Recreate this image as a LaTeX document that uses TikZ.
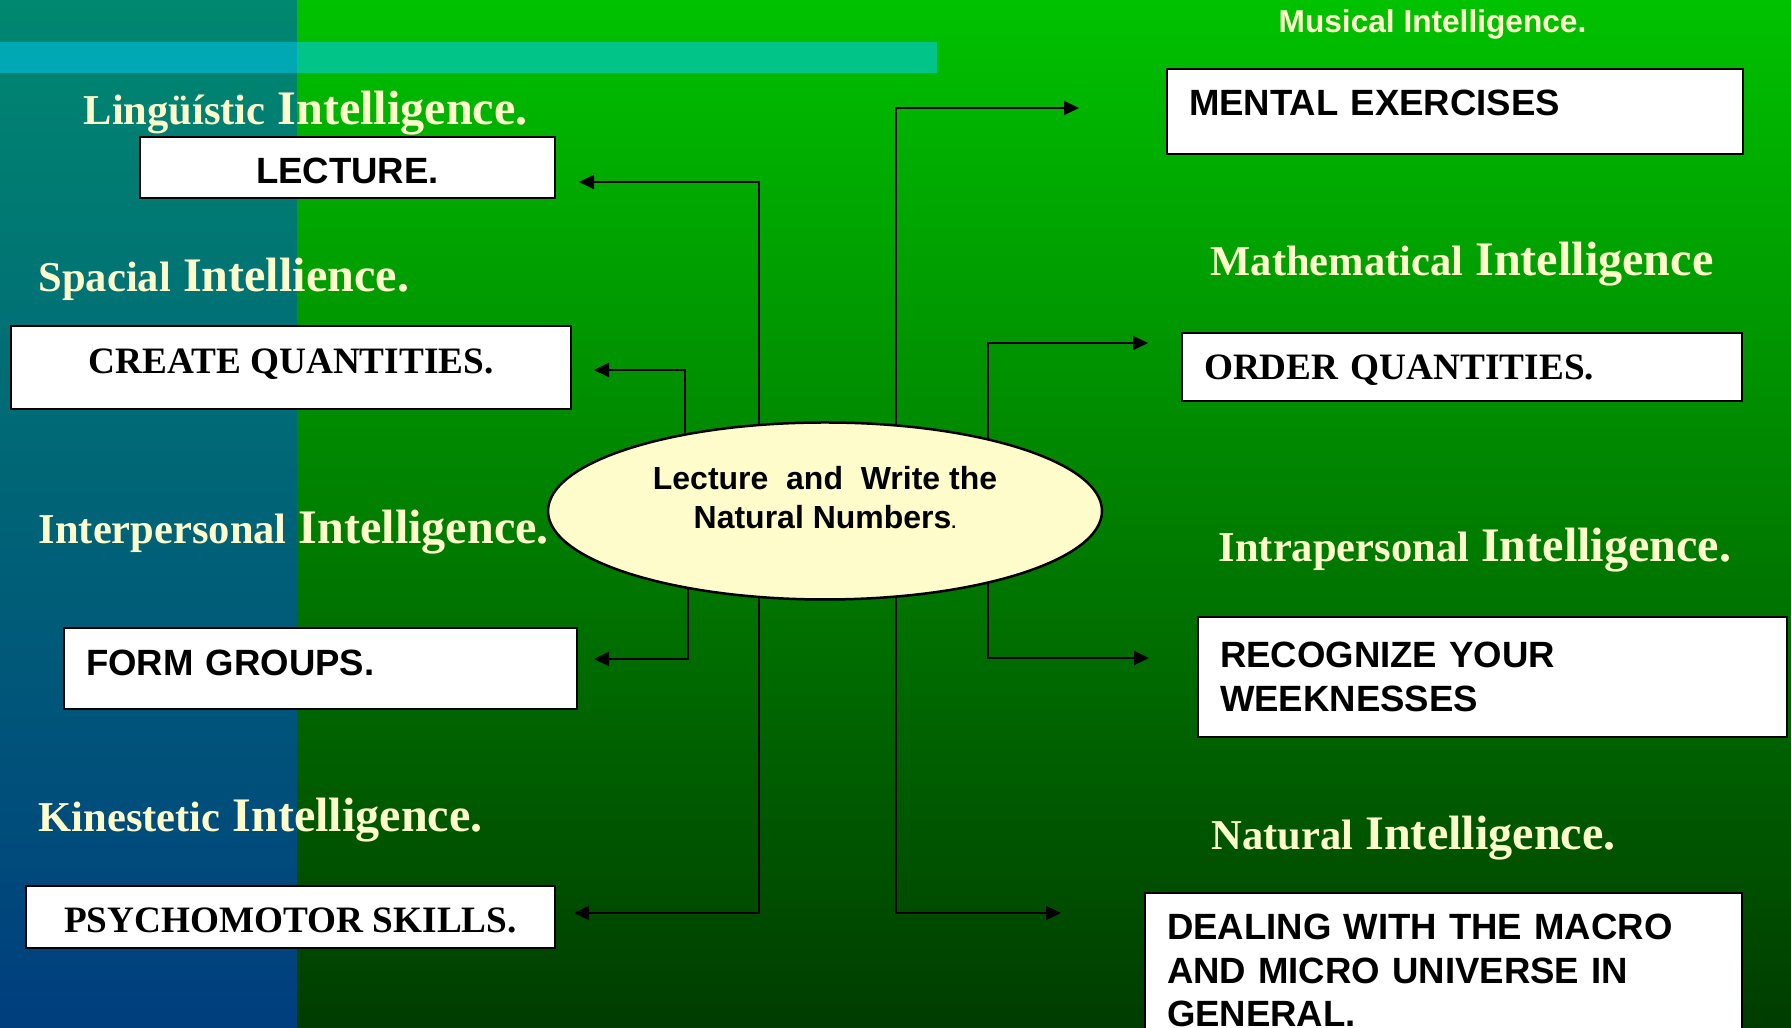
\documentclass[tikz,border=0pt]{standalone}
\usepackage{fontspec}
\setmainfont{Liberation Serif}
\setsansfont{Liberation Sans}
\usepackage{tikz}
\usetikzlibrary{
  arrows.meta,
  backgrounds,
  calc,
  shapes.geometric
}
\definecolor{leftTop}{RGB}{0,136,112}
\definecolor{leftMid}{RGB}{0,92,120}
\definecolor{leftBot}{RGB}{0,62,126}
\definecolor{rightTop}{RGB}{0,194,0}
\definecolor{rightBot}{RGB}{0,60,0}
\definecolor{bandLeft}{RGB}{0,168,180}
\definecolor{bandRight}{RGB}{0,196,136}
\colorlet{titleYellow}{yellow!20!white}
\colorlet{ellipseYellow}{yellow!20!white}
\newcommand\firstword[1]{{\fontsize{12.1}{16}\selectfont #1}}

\begin{document}
\begin{tikzpicture}[
  x=0.1mm, y=-0.1mm,
  intel title/.style={anchor=base west, inner sep=0pt, text=titleYellow, font=\fontsize{13.7}{16}\selectfont\bfseries},
  skill box/.style={draw, line width=0.25mm, fill=white, inner xsep=2.2mm, inner ysep=0pt},
  arial text/.style={font=\fontsize{10.4}{12.4}\selectfont\sffamily\bfseries},
  times text/.style={font=\fontsize{10.6}{12.6}\selectfont\bfseries},
  left text/.style={align=left, text width=#1},
  skill arrow/.style={line width=0.2mm, -{Triangle[length=1.5mm,width=1.4mm]}}
]
\useasboundingbox (0,0) rectangle (1791,1028);
\node[intel title] (lingTitle) at (83,125) {\firstword{Lingüístic} Intelligence.};
\node[intel title] (spacTitle) at (38,292) {\firstword{Spacial} Intellience.};
\node[intel title] (interTitle) at (38,544) {\firstword{Interpersonal} Intelligence.};
\node[intel title] (kinTitle) at (38,832) {\firstword{Kinestetic} Intelligence.};
\node[intel title, font=\fontsize{9}{11}\selectfont\sffamily\bfseries] (musTitle) at (1278,33) {Musical Intelligence.};
\node[intel title] (mathTitle) at (1210,276) {\firstword{Mathematical} Intelligence};
\node[intel title] (intraTitle) at (1218,562) {\firstword{Intrapersonal} Intelligence.};
\node[intel title] (natTitle) at (1211,850) {\firstword{Natural} Intelligence.};
\node[skill box, arial text, minimum width=41.5mm, minimum height=6.1mm, text height=3.3mm] (lecture) at (347.5,167.5) {LECTURE.};
\node[skill box, times text, minimum width=56mm, minimum height=8.3mm, text depth=1.35mm] (create) at (291,367.5) {CREATE QUANTITIES.};
\node[skill box, arial text, left text=46.9mm, minimum height=8.1mm, text depth=1.2mm] (form) at (320.5,668.5) {FORM GROUPS.};
\node[skill box, times text, minimum width=52.9mm, minimum height=6.2mm, text height=3.15mm] (psycho) at (290.5,917) {PSYCHOMOTOR SKILLS.};
\node[skill box, arial text, left text=53.2mm, minimum height=8.5mm, text depth=1.8mm] (mental) at (1455,111.5) {MENTAL EXERCISES};
\node[skill box, times text, left text=51.6mm, minimum height=6.8mm, text height=3.15mm] (order) at (1462,367) {ORDER QUANTITIES.};
\node[skill box, arial text, left text=54.5mm, minimum height=12mm] (recog) at (1492.5,677) {RECOGNIZE YOUR\\WEEKNESSES};
\node[skill box, arial text, left text=55.3mm, minimum height=15.5mm] (dealing) at (1443.5,970.5) {DEALING WITH THE MACRO\\AND MICRO UNIVERSE IN\\GENERAL.};
\node[ellipse, draw, line width=0.25mm, fill=ellipseYellow, minimum width=55.4mm, minimum height=17.7mm, align=center, text depth=2.7mm, font=\fontsize{9.1}{11}\selectfont\sffamily\bfseries] (ell) at (825,511) {Lecture\ \ and\ \ Write the\\Natural Numbers{\tiny.}};
\coordinate (aLecture) at (579,182);
\coordinate (aCreate) at (594,370);
\coordinate (aForm) at (594,659);
\coordinate (aPsycho) at (574,913);
\coordinate (aMental) at (1079,108);
\coordinate (aOrder) at (1148,343);
\coordinate (aRecog) at (1149,658);
\coordinate (aDealing) at (1061,913);
\begin{pgfonlayer}{background}
\shade[top color=leftTop, middle color=leftMid, bottom color=leftBot] (0,0) rectangle (297,1028);
\shade[top color=rightTop, bottom color=rightBot] (297,0) rectangle (1791,1028);
\fill[bandLeft] (0,42) rectangle (297,73);
\fill[bandRight] (297,42) rectangle (937,73);
\draw[skill arrow] ($(ell)+(-66,0)$) |- (aLecture);
\draw[skill arrow] ($(ell)+(-140,0)$) |- (aCreate);
\draw[skill arrow] ($(ell)+(-137,0)$) |- (aForm);
\draw[skill arrow] ($(ell)+(-66,0)$) |- (aPsycho);
\draw[skill arrow] ($(ell)+(71,0)$) |- (aMental);
\draw[skill arrow] ($(ell)+(163,0)$) |- (aOrder);
\draw[skill arrow] ($(ell)+(163,0)$) |- (aRecog);
\draw[skill arrow] ($(ell)+(71,0)$) |- (aDealing);
\end{pgfonlayer}
\end{tikzpicture}
\end{document}
